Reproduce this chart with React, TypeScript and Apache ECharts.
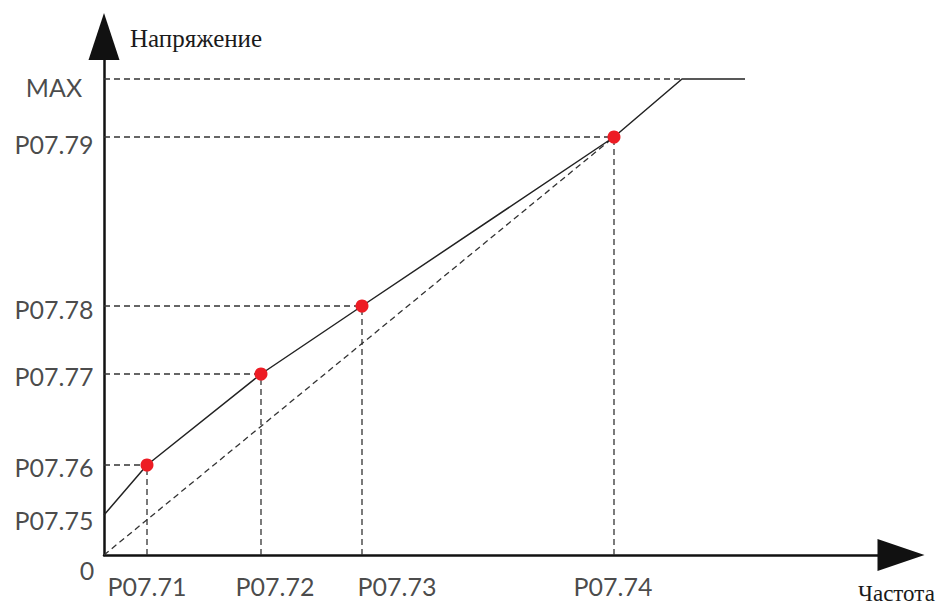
import React, { useEffect, useRef } from "react";
import * as echarts from "echarts";

// Frequency parameters (x) and their positions on the frequency axis
const xNames = ["P07.71", "P07.72", "P07.73", "P07.74"];
const xValues = [43, 157, 258, 510];
// Voltage parameters (y)
const yNames = ["P07.75", "P07.76", "P07.77", "P07.78", "P07.79", "MAX"];
const yValues = [40, 90, 181, 249, 418, 476];
// knee where the curve reaches MAX, and where it ends
const kneeX = 578;
const endX = 641;

// layout-only tweaks
const xLabelShift = [0, 14, 35, -1];
const yLabelShift = [5, 2, 2, 3, 7, 8];

const W = 943;
const H = 606;
const GRID = { left: 104, right: 42, top: 36.5, bottom: 51 };
const X_MAX = W - GRID.left - GRID.right;
const Y_MAX = H - GRID.top - GRID.bottom;

const LABEL_FONT = "Lato, 'DejaVu Sans', sans-serif";
const SERIF = "'Liberation Serif', 'DejaVu Serif', serif";

export default function App() {
  const ref = useRef<HTMLDivElement>(null);

  useEffect(() => {
    document.body.style.margin = "0";
    if (!ref.current) return;
    const chart = echarts.init(ref.current, undefined, { renderer: "svg" });

    const pts = xValues.map((x, i) => [x, yValues[i + 1]]);
    const curve: number[][] = [
      [0, yValues[0]],
      ...pts,
      [kneeX, yValues[yValues.length - 1]],
      [endX, yValues[yValues.length - 1]],
    ];

    const dashStyle = { color: "#333", width: 1.3, type: [6, 4] as any };
    const guide = (data: number[][]) => ({
      type: "line",
      data,
      symbol: "none",
      silent: true,
      lineStyle: dashStyle,
      z: 2,
    });

    const guides: any[] = [];
    pts.forEach((p) => {
      guides.push(guide([[0, p[1]], p]));
      guides.push(guide([[p[0], 0], p]));
    });
    guides.push(guide([[0, yValues[yValues.length - 1]], [kneeX, yValues[yValues.length - 1]]]));
    guides.push(guide([[0, 0], pts[pts.length - 1]]));

    const labelBase = {
      show: true,
      position: "inside",
      align: "center",
      verticalAlign: "middle",
      fontFamily: LABEL_FONT,
      fontSize: 25,
      color: "#1a1a1a",
    };

    chart.setOption({
      animation: false,
      grid: GRID,
      xAxis: {
        type: "value",
        min: 0,
        max: X_MAX,
        axisLine: {
          show: true,
          onZero: false,
          symbol: ["none", "triangle"],
          symbolSize: [32, 47],
          lineStyle: { color: "#111", width: 2.5 },
        },
        axisTick: { show: false },
        axisLabel: { show: false },
        splitLine: { show: false },
      },
      yAxis: {
        type: "value",
        min: 0,
        max: Y_MAX,
        axisLine: {
          show: true,
          onZero: false,
          symbol: ["none", "triangle"],
          symbolSize: [31, 47],
          lineStyle: { color: "#111", width: 2.5 },
        },
        axisTick: { show: false },
        axisLabel: { show: false },
        splitLine: { show: false },
      },
      series: [
        ...guides,
        {
          type: "line",
          data: curve,
          symbol: "none",
          silent: true,
          lineStyle: { color: "#222", width: 1.5 },
          z: 3,
        },
        {
          type: "scatter",
          data: pts,
          symbolSize: 13,
          itemStyle: { color: "#ed1c24", opacity: 1 },
          z: 4,
        },
        {
          type: "scatter",
          clip: false,
          silent: true,
          symbolSize: 1,
          itemStyle: { color: "rgba(0,0,0,0)" },
          data: yNames.map((n, i) => ({
            value: [0, yValues[i]],
            label: { ...labelBase, formatter: n, offset: [-50, yLabelShift[i]] },
          })),
          z: 5,
        },
        {
          type: "scatter",
          clip: false,
          silent: true,
          symbolSize: 1,
          itemStyle: { color: "rgba(0,0,0,0)" },
          data: [
            ...xNames.map((n, i) => ({
              value: [xValues[i], 0],
              label: { ...labelBase, formatter: n, offset: [xLabelShift[i], 31] },
            })),
            {
              value: [0, 0],
              label: { ...labelBase, formatter: "0", offset: [-17, 15] },
            },
          ],
          z: 5,
        },
      ],
      graphic: [
        {
          type: "text",
          left: 130,
          top: 26,
          style: {
            text: "Напряжение",
            font: `25px ${SERIF}`,
            fill: "#1a1a1a",
          },
        },
        {
          type: "text",
          left: 858,
          top: 582,
          style: {
            text: "Частота",
            font: `23px ${SERIF}`,
            fill: "#1a1a1a",
          },
        },
      ],
    });

    return () => chart.dispose();
  }, []);

  return (
    <div
      ref={ref}
      style={{ position: "absolute", left: 0, top: 0, width: W, height: H, background: "#fff" }}
    />
  );
}
